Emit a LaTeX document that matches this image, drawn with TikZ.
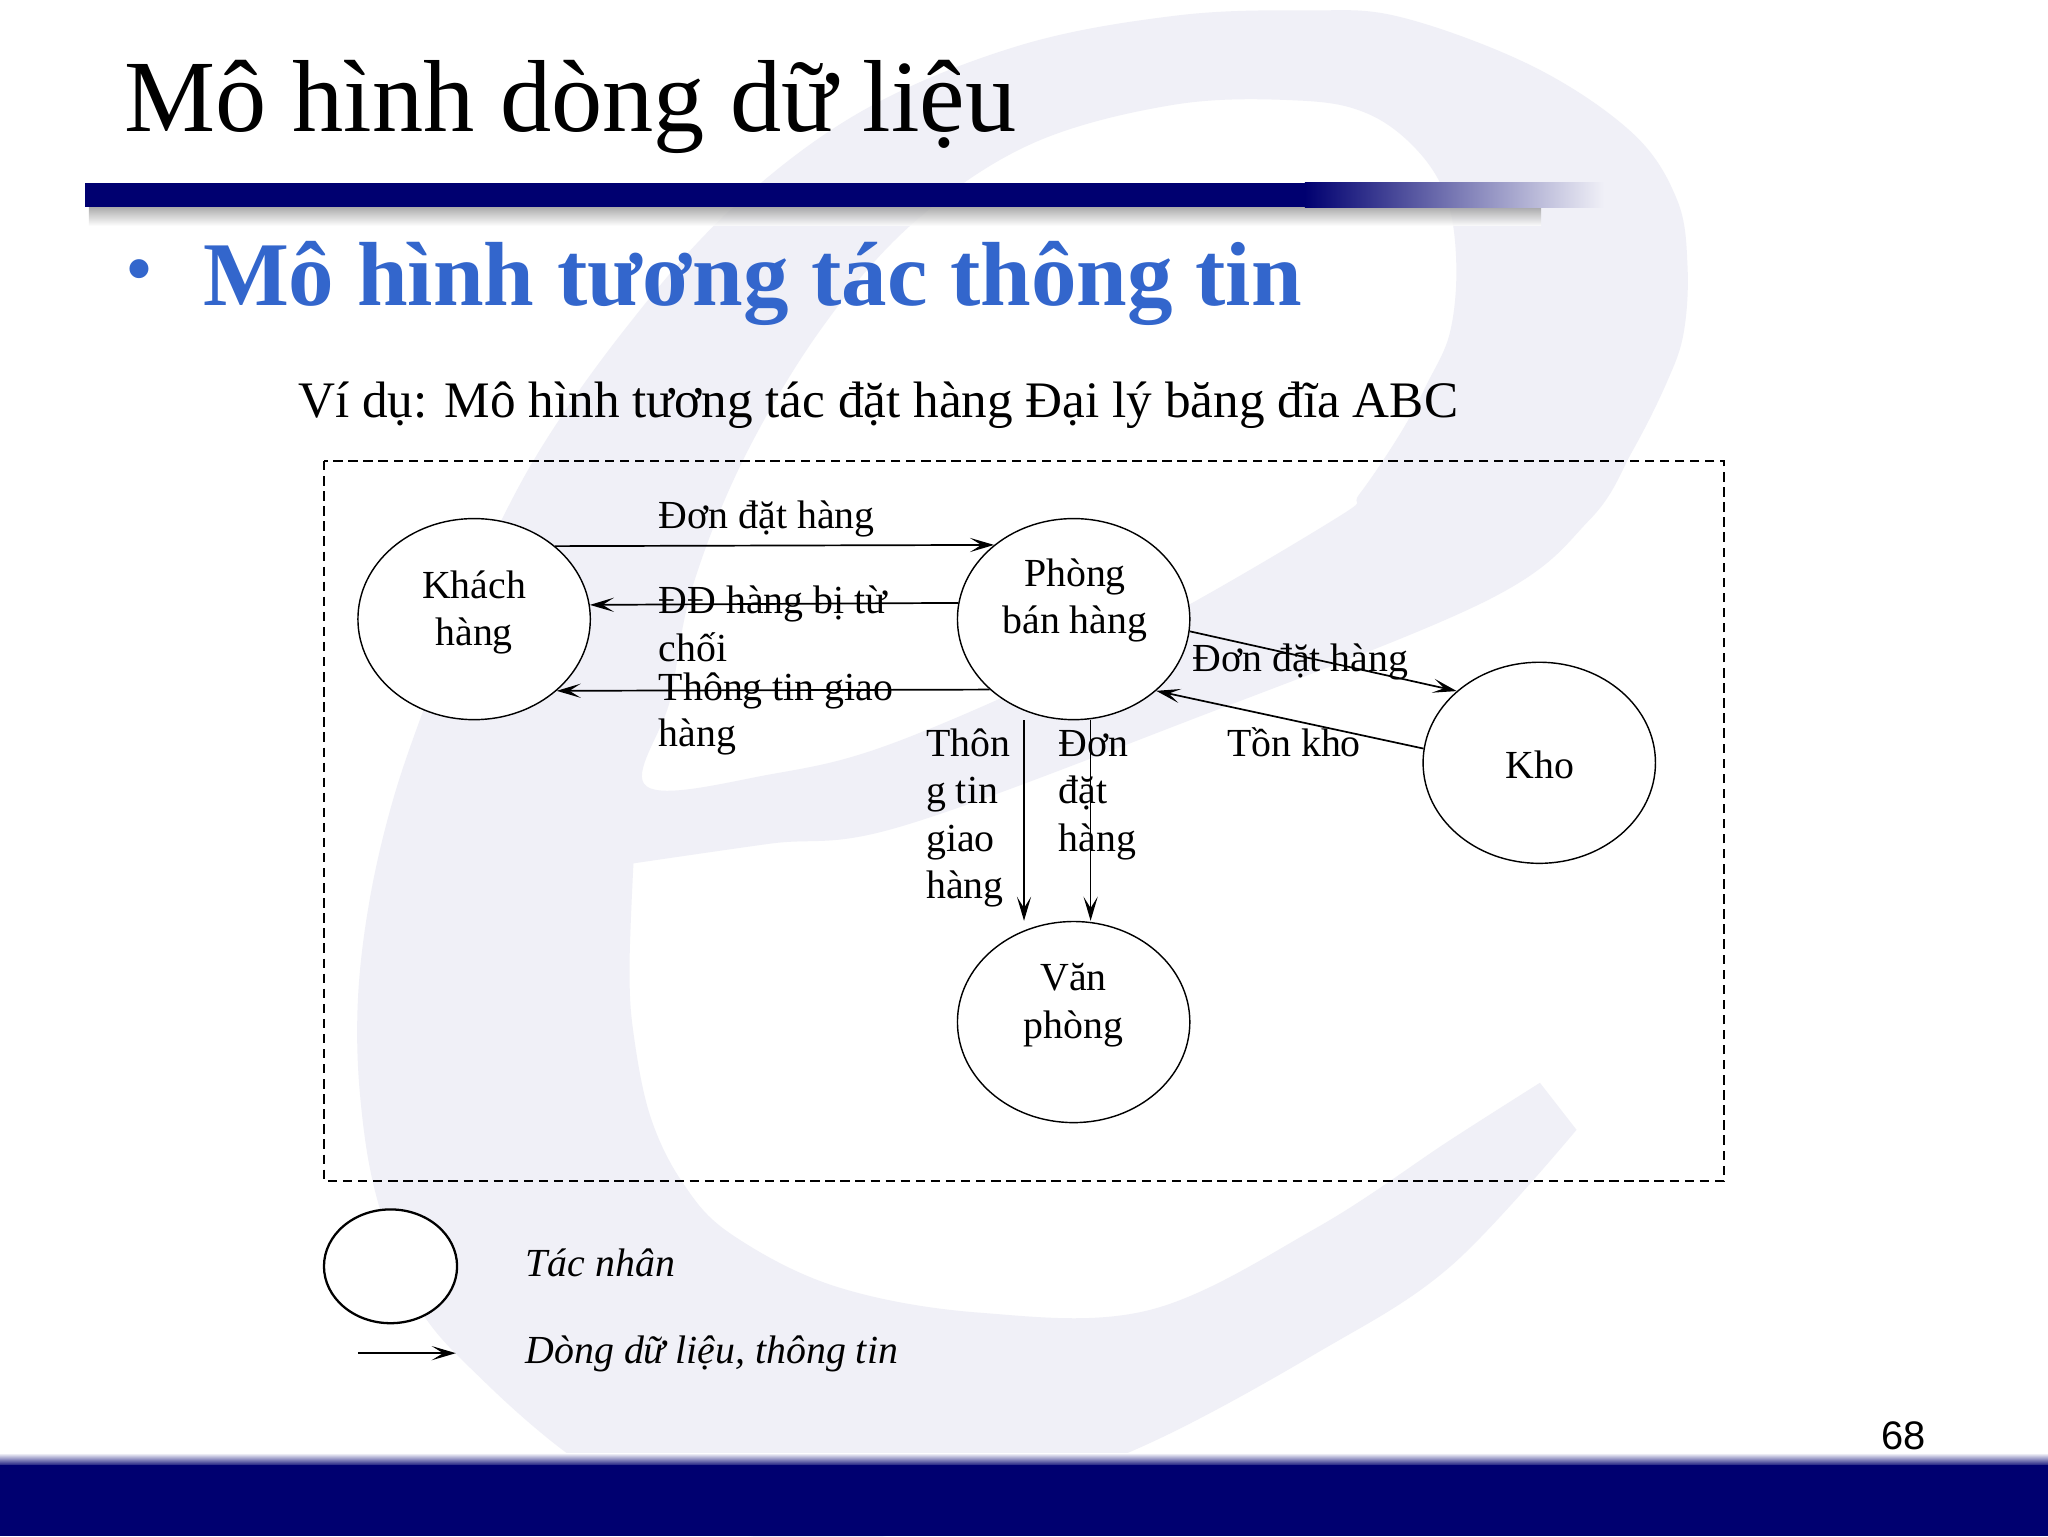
\documentclass[tikz,border=0pt]{standalone}
\usepackage{fontspec}
\setmainfont{Liberation Serif}
\newfontfamily\arialfont{Liberation Sans}
\usetikzlibrary{arrows.meta,shapes.geometric}
\definecolor{navy}{RGB}{0,0,112}
\definecolor{wm}{RGB}{240,240,247}
\definecolor{bulblue}{RGB}{51,102,204}
\begin{document}
\begin{tikzpicture}[x=0.4592pt,y=-0.4592pt]
\tikzset{
  actor/.style={draw, ellipse, fill=white, line width=0.5pt, minimum width=81.7pt, minimum height=70.7pt, inner sep=0pt},
  flow/.style={line width=0.6pt, -{Stealth[length=8.5pt,width=5pt,inset=4pt]}},
  lbl/.style={font=\fontsize{14}{16.8}\selectfont, inner sep=0pt, anchor=base west},
  lblc/.style={font=\fontsize{14}{16.8}\selectfont, inner sep=0pt, anchor=base},
  leg/.style={font=\fontsize{14}{16.8}\selectfont\itshape, inner sep=0pt, anchor=base west},
}
\useasboundingbox (0,0) rectangle (1568,1176);
\fill[white] (0,0) rectangle (1568,1176);
% watermark "e"
\fill[wm, even odd rule]
  plot[smooth, tension=0.6] coordinates {(1179,829) (1110,873) (1008,940) (880,1003) (750,1005) (640,985) (560,945) (523,906) (498,855) (485,791) (482,740) (485,661)}
  -- plot[smooth, tension=0.6] coordinates {(485,661) (589,646) (689,633) (912,551) (1138,460) (1217,398) (1250,345) (1276,293) (1289,255) (1292,204) (1284,153) (1250,102) (1174,51) (1072,13) (1000,8) (900,12) (780,35) (660,85) (560,160) (480,250) (410,350) (360,450) (327,536) (301,612) (283,689) (274,766) (276,842) (289,919) (320,1000) (370,1057) (440,1117) (520,1165) (650,1180) (760,1150) (880,1105) (1008,1036) (1110,970) (1207,865)}
  -- cycle
  plot[smooth cycle, tension=0.6] coordinates {(495,602) (513,536) (530,450) (570,350) (630,250) (700,170) (790,110) (900,80) (995,77) (1047,87) (1085,115) (1108,153) (1115,204) (1110,255) (1093,293) (1072,332) (1041,378) (1021,398) (860,490) (689,567) (589,593)};
% title bar with shadow
\shade[top color=black!45, bottom color=white, opacity=0.8] (68,157) rectangle (1180,173);
\fill[navy] (65,140) rectangle (1000,158.5);
\shade[left color=navy, right color=wm] (999,140) rectangle (1228,158.5);
% bottom bar
\shade[top color=wm, bottom color=navy] (0,1113) rectangle (1568,1123);
\fill[navy] (0,1122) rectangle (1568,1176);
% texts of the slide
\node[inner sep=0pt, anchor=base west, font=\fontsize{36}{43}\selectfont] (title) at (95,101) {Mô hình dòng dữ liệu};
\node[inner sep=0pt, anchor=base, text=bulblue, font=\fontsize{28}{30}\selectfont] (bul) at (107,226) {•};
\node[inner sep=0pt, anchor=base west, text=bulblue, font=\fontsize{32}{38}\selectfont\bfseries] (head) at (155,234) {Mô hình tương tác thông tin};
\node[inner sep=0pt, anchor=base west, font=\fontsize{18}{21.6}\selectfont] (sub) at (228,320) {Ví dụ: Mô hình tương tác đặt hàng Đại lý băng đĩa ABC};
\node[inner sep=0pt, anchor=base west, font=\arialfont\fontsize{14}{16.8}\selectfont] (pno) at (1440,1109.5) {68};
% dashed frame
\draw[dash pattern=on 3.3pt off 2pt, line width=0.6pt] (248,353) rectangle (1320,904);
% actors
\node[actor] (kh) at (363,474) {};
\node[actor] (pb) at (822,474) {};
\node[actor] (kho) at (1178.5,584) {};
\node[actor] (vp) at (822,782.5) {};
\node[lblc] (khA) at (363,458) {Khách};
\node[lblc] (khB) at (363,494) {hàng};
\node[lblc] (pbA) at (823,449) {Phòng};
\node[lblc] (pbB) at (823,485) {bán hàng};
\node[lblc] (khoA) at (1179,596) {Kho};
\node[lblc] (vpA) at (822,758) {Văn};
\node[lblc] (vpB) at (822,795) {phòng};
% flows
\draw[flow] (kh.42.5) -- (pb.137.5);
\draw[flow] (pb.172.9) -- (kh.7.1);
\draw[flow] (pb.220.4) -- (kh.319.6);
\draw[flow] (pb.-6.5) -- (kho.139.5);
\draw[flow] (kho.173) -- (pb.319.7);
\coordinate (v1) at (784,0);
\coordinate (v2) at (835,0);
\draw[flow] (v1 |- pb.south) -- (v1 |- vp.north);
\draw[flow] (v2 |- pb.south) -- (v2 |- vp.north);
% flow labels
\node[lbl] (l1) at (504,404.5) {Đơn đặt hàng};
\node[lbl] (l2a) at (504,470) {ĐĐ hàng bị từ};
\node[lbl] (l2b) at (504,506.5) {chối};
\node[lbl] (l3a) at (504,536) {Thông tin giao};
\node[lbl] (l3b) at (504,571.6) {hàng};
\node[lbl] (l4) at (912.5,514) {Đơn đặt hàng};
\node[lbl] (l5) at (939,579) {Tồn kho};
\node[lbl] (l6a) at (708.6,579) {Thôn};
\node[lbl] (l6b) at (708.6,615.5) {g tin};
\node[lbl] (l6c) at (708.6,652) {giao};
\node[lbl] (l6d) at (708.6,688) {hàng};
\node[lbl] (l7a) at (810,579) {Đơn};
\node[lbl] (l7b) at (810,615.5) {đặt};
\node[lbl] (l7c) at (810,652) {hàng};
% legend
\node[draw, ellipse, fill=white, line width=0.8pt, minimum width=46.8pt, minimum height=40pt, inner sep=0pt] (lgc) at (299,969.5) {};
\coordinate (lg1) at (274,1036);
\coordinate (lg2) at (349,1036);
\draw[flow] (lg1) -- (lg2);
\node[leg] (lgA) at (402,977.5) {Tác nhân};
\node[leg] (lgB) at (402,1043.7) {Dòng dữ liệu, thông tin};
\end{tikzpicture}
\end{document}
